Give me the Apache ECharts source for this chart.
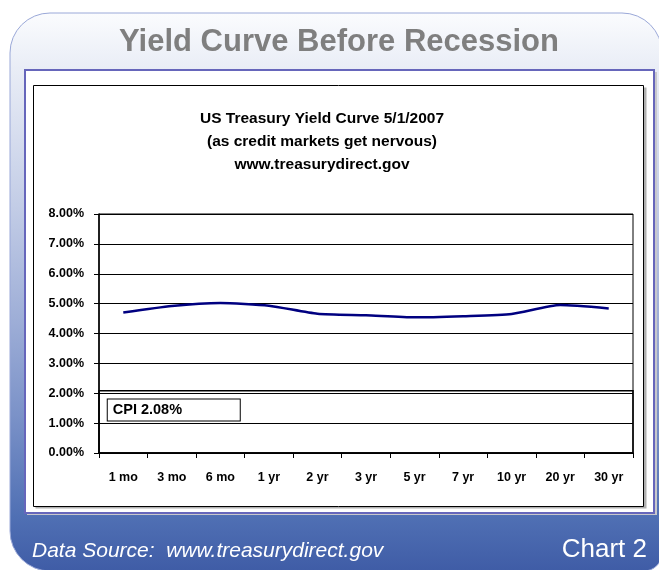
<!DOCTYPE html>
<html>
<head>
<meta charset="utf-8">
<title>Yield Curve Before Recession</title>
<script src="https://cdn.jsdelivr.net/npm/echarts@6/dist/echarts.min.js"></script>
<style>
  html, body { margin: 0; padding: 0; background: #ffffff; }
  #chart { width: 659px; height: 570px; }
</style>
</head>
<body>
<div id="chart"></div>
<script>
// US Treasury yield curve on 5/1/2007, one point per maturity
const maturities = ['1 mo', '3 mo', '6 mo', '1 yr', '2 yr', '3 yr', '5 yr', '7 yr', '10 yr', '20 yr', '30 yr'];
const yields = [4.70, 4.92, 5.02, 4.93, 4.66, 4.61, 4.54, 4.58, 4.65, 4.95, 4.84];
// Consumer price inflation, shown as a band from zero
const cpi = 2.08;
const yTicks = { min: 0, max: 8, step: 1 };

const FONT = '"Liberation Sans", Arial, Helvetica, sans-serif';

const chart = echarts.init(document.getElementById('chart'), null, { renderer: 'canvas' });

chart.setOption({
  animation: false,
  backgroundColor: '#ffffff',
  title: [
    {
      text: 'US Treasury Yield Curve 5/1/2007\n(as credit markets get nervous)\nwww.treasurydirect.gov',
      left: 317,
      top: 102,
      textAlign: 'center',
      textStyle: {
        fontFamily: FONT,
        fontWeight: 'bold',
        fontSize: 15.5,
        lineHeight: 23,
        color: '#000000'
      }
    }
  ],
  grid: {
    left: 99,
    right: 26,
    top: 214,
    bottom: 117,
    show: true,
    borderColor: '#000000',
    borderWidth: 1,
    backgroundColor: 'transparent'
  },
  xAxis: {
    type: 'category',
    data: maturities,
    boundaryGap: true,
    axisLine: { show: true, lineStyle: { color: '#000000', width: 1.5 } },
    axisTick: { show: true, inside: false, length: 5, lineStyle: { color: '#000000' } },
    axisLabel: {
      margin: 18,
      fontFamily: FONT,
      fontWeight: 'bold',
      fontSize: 12.5,
      color: '#000000'
    },
    splitLine: { show: false }
  },
  yAxis: {
    type: 'value',
    min: yTicks.min,
    max: yTicks.max,
    interval: yTicks.step,
    axisLine: { show: true, lineStyle: { color: '#000000', width: 1.5 } },
    axisTick: { show: true, inside: false, length: 5, lineStyle: { color: '#000000' } },
    axisLabel: {
      margin: 15,
      fontFamily: FONT,
      fontWeight: 'bold',
      fontSize: 12.5,
      color: '#000000',
      formatter: (v) => v.toFixed(2) + '%'
    },
    splitLine: { show: true, lineStyle: { color: '#000000', width: 1 } }
  },
  series: [
    {
      name: 'Yield',
      type: 'line',
      data: yields,
      smooth: 0.2,
      showSymbol: false,
      symbol: 'none',
      lineStyle: { color: '#000080', width: 2.5 },
      z: 3,
      markArea: {
        silent: true,
        itemStyle: {
          color: 'rgba(0,0,0,0)',
          borderColor: '#000000',
          borderWidth: 1.5
        },
        label: {
          show: true,
          position: 'insideTopLeft',
          distance: 9.5,
          formatter: () => 'CPI ' + cpi.toFixed(2) + '%',
          fontFamily: FONT,
          fontWeight: 'bold',
          fontSize: 14.5,
          lineHeight: 15,
          color: '#000000',
          backgroundColor: '#ffffff',
          borderColor: '#000000',
          borderWidth: 1,
          padding: [3, 5, 3, 5],
          width: 122
        },
        data: [[{ yAxis: 0 }, { yAxis: cpi }]]
      }
    }
  ],
  graphic: [
    // Rounded panel with a light-to-blue vertical gradient
    {
      type: 'rect',
      z: -30,
      shape: { x: 10, y: 13, width: 652, height: 558, r: [40, 40, 18, 40] },
      style: {
        fill: new echarts.graphic.LinearGradient(0, 0, 0, 1, [
          { offset: 0, color: '#fbfcfe' },
          { offset: 0.1, color: '#e9edf6' },
          { offset: 0.35, color: '#c2cce6' },
          { offset: 0.55, color: '#9eaed7' },
          { offset: 0.72, color: '#7b92c8' },
          { offset: 0.9, color: '#5070b4' },
          { offset: 1, color: '#3f5ca6' }
        ]),
        stroke: '#9aa8d8',
        lineWidth: 1
      }
    },
    // Heading
    {
      type: 'text',
      z: -20,
      style: {
        text: 'Yield Curve Before Recession',
        x: 339,
        y: 42,
        textAlign: 'center',
        textVerticalAlign: 'middle',
        fill: '#7f7f7f',
        font: 'bold 31px ' + FONT
      }
    },
    // White frame with blue-violet edge
    {
      type: 'rect',
      z: -20,
      shape: { x: 27, y: 72, width: 630, height: 443 },
      style: { fill: '#c8c8cc', stroke: null }
    },
    {
      type: 'rect',
      z: -19,
      shape: { x: 25, y: 70, width: 629, height: 443 },
      style: { fill: '#ffffff', stroke: '#6666bb', lineWidth: 2 }
    },
    // Chart box
    {
      type: 'rect',
      z: -18,
      shape: { x: 35.5, y: 87.5, width: 611, height: 421 },
      style: { fill: '#b0b0b0', stroke: null }
    },
    {
      type: 'rect',
      z: -17,
      shape: { x: 33.5, y: 85.5, width: 610, height: 421 },
      style: { fill: '#ffffff', stroke: '#000000', lineWidth: 1 }
    },
    // Footer texts
    {
      type: 'text',
      z: -10,
      style: {
        text: 'Data Source:  www.treasurydirect.gov',
        x: 32,
        y: 551,
        textAlign: 'left',
        textVerticalAlign: 'middle',
        fill: '#ffffff',
        font: 'italic 21px ' + FONT
      }
    },
    {
      type: 'text',
      z: -10,
      style: {
        text: 'Chart 2',
        x: 647,
        y: 550,
        textAlign: 'right',
        textVerticalAlign: 'middle',
        fill: '#ffffff',
        font: '26px ' + FONT
      }
    }
  ]
});
</script>
</body>
</html>
